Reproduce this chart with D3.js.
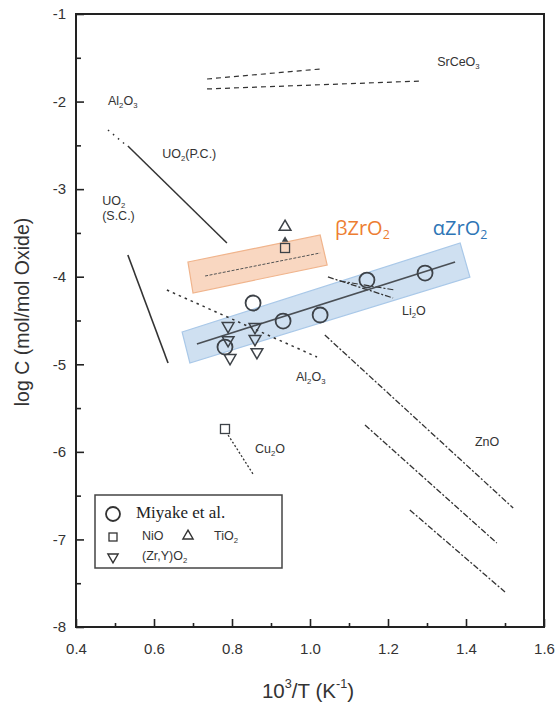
<!DOCTYPE html>
<html><head><meta charset="utf-8">
<script src="https://cdn.jsdelivr.net/npm/d3@7"></script>
<style>body{margin:0;background:#fff;} svg{display:block;}</style>
</head><body>
<svg id="c" width="555" height="704"></svg>
<script>
// ---- data ----
const xTickValues = [0.4, 0.6, 0.8, 1.0, 1.2, 1.4, 1.6];
const xTickLabels = ["0.4", "0.6", "0.8", "1.0", "1.2", "1.4", "1.6"];
const xMinorTicks = [0.5, 0.7, 0.9, 1.1, 1.3, 1.5];
const yTickValues = [-1, -2, -3, -4, -5, -6, -7, -8];
const yTickLabels = ["-1", "-2", "-3", "-4", "-5", "-6", "-7", "-8"];
const yMinorTicks = [-1.5, -2.5, -3.5, -4.5, -5.5, -6.5, -7.5];

// Miyake et al. (circles)
const miyakeX = [0.782, 0.854, 0.931, 1.026, 1.146, 1.295];
const miyakeY = [-4.803, -4.300, -4.506, -4.437, -4.038, -3.958];
// (Zr,Y)O2 (down triangles)
const zryX = [0.790, 0.790, 0.795, 0.859, 0.859, 0.864];
const zryY = [-4.563, -4.723, -4.928, -4.574, -4.711, -4.860];
// TiO2 (triangle) and NiO (square)
const tio2X = [0.936];
const tio2Y = [-3.432];
const tio2SmallX = [0.936];
const tio2SmallY = [-3.58];
const nioX = [0.936, 0.782];
const nioY = [-3.672, -5.739];

// literature lines [x0, x1], [y0, y1]
const srceoAX = [0.736, 1.026], srceoAY = [-1.742, -1.628];
const srceoBX = [0.736, 1.287], srceoBY = [-1.856, -1.765];
const al2o3TopX = [0.482, 0.528], al2o3TopY = [-2.325, -2.496];
const uo2pcX = [0.533, 0.787], uo2pcY = [-2.507, -3.615];
const uo2scX = [0.533, 0.636], uo2scY = [-3.752, -4.985];
const al2o3LowX = [0.633, 1.018], al2o3LowY = [-4.152, -4.917];
const li2oAX = [1.046, 1.213], li2oAY = [-4.003, -4.243];
const li2oBX = [1.077, 1.218], li2oBY = [-4.049, -4.152];
const znoAX = [1.038, 1.521], znoAY = [-4.666, -6.641];
const znoBX = [1.141, 1.479], znoBY = [-5.693, -7.041];
const znoCX = [1.256, 1.500], znoCY = [-6.664, -7.600];
const cu2oX = [0.790, 0.854], cu2oY = [-5.808, -6.253];
const betaLineX = [0.731, 1.026], betaLineY = [-3.992, -3.729];
const alphaLineX = [0.710, 1.372], alphaLineY = [-4.768, -3.832];

// shaded bands (corners)
const betaBandX = [0.687, 1.026, 1.044, 0.700];
const betaBandY = [-3.832, -3.524, -3.866, -4.186];
const alphaBandX = [0.672, 1.385, 1.410, 0.692];
const alphaBandY = [-4.631, -3.615, -4.003, -4.985];

// ---- chart ----
const svg = d3.select("#c");
const x = d3.scaleLinear().domain([0.4, 1.6]).range([76, 544]);
const y = d3.scaleLinear().domain([-8, -1]).range([627, 14]);
const ink = "#333";
const font = "Liberation Sans, Arial, sans-serif";

function chem(parent, px, py, parts, size, opts) {
  opts = opts || {};
  const t = parent.append("text").attr("x", px).attr("y", py)
    .attr("font-family", opts.family || font).attr("font-size", size)
    .attr("fill", opts.fill || ink).attr("dominant-baseline", "middle");
  let shifted = false;
  parts.forEach(p => {
    const isSub = p[1] === "sub", isSup = p[1] === "sup";
    const ts = t.append("tspan").text(p[0]);
    if (isSub) { ts.attr("dy", size * 0.3).attr("font-size", size * 0.62); shifted = "sub"; }
    else if (isSup) { ts.attr("dy", -size * 0.38).attr("font-size", size * 0.62); shifted = "sup"; }
    else if (shifted) { ts.attr("dy", shifted === "sub" ? -size * 0.3 : size * 0.38); shifted = false; }
  });
  return t;
}

// bands
function band(xs, ys, fill, stroke) {
  svg.append("polygon")
    .attr("points", xs.map((v, i) => x(v) + "," + y(ys[i])).join(" "))
    .attr("fill", fill).attr("stroke", stroke).attr("stroke-width", 1.2);
}
band(betaBandX, betaBandY, "#f9d7c1", "#f0b48c");
band(alphaBandX, alphaBandY, "#cfe0f1", "#a9c8e8");

// lines
function seg(xs, ys, dash, w, col) {
  svg.append("line")
    .attr("x1", x(xs[0])).attr("y1", y(ys[0]))
    .attr("x2", x(xs[1])).attr("y2", y(ys[1]))
    .attr("stroke", col || ink).attr("stroke-width", w || 1.3)
    .attr("stroke-dasharray", dash || null);
}
seg(srceoAX, srceoAY, "5,4", 1.2);
seg(srceoBX, srceoBY, "5,4", 1.2);
seg(al2o3TopX, al2o3TopY, "1.5,5", 1.5);
seg(uo2pcX, uo2pcY, null, 1.5);
seg(uo2scX, uo2scY, null, 1.6);
seg(al2o3LowX, al2o3LowY, "2.5,4", 1.5);
seg(li2oAX, li2oAY, "6,2,2,2", 1.3);
seg(li2oBX, li2oBY, "6,2,2,2", 1.1);
seg(znoAX, znoAY, "6,2,2,2", 1.3);
seg(znoBX, znoBY, "6,2,2,2", 1.3);
seg(znoCX, znoCY, "6,2,2,2", 1.3);
seg(cu2oX, cu2oY, "2,2", 1.3);
seg(betaLineX, betaLineY, "3,1.5", 1.0, "#555");
seg(alphaLineX, alphaLineY, null, 1.6, "#4a4f55");

// markers
const mk = "#3d4248";
svg.append("g").selectAll("circle").data(miyakeX).join("circle")
  .attr("cx", d => x(d)).attr("cy", (d, i) => y(miyakeY[i])).attr("r", 7.5)
  .attr("fill", "none").attr("stroke", mk).attr("stroke-width", 1.8);
const tri = d3.symbol().type(d3.symbolTriangle).size(60);
svg.append("g").selectAll("path").data(zryX).join("path")
  .attr("d", tri).attr("transform", (d, i) => `translate(${x(d)},${y(zryY[i])}) rotate(180)`)
  .attr("fill", "none").attr("stroke", mk).attr("stroke-width", 1.5);
svg.append("g").selectAll("path").data(tio2X).join("path")
  .attr("d", tri).attr("transform", (d, i) => `translate(${x(d)},${y(tio2Y[i])})`)
  .attr("fill", "none").attr("stroke", mk).attr("stroke-width", 1.5);
svg.append("g").selectAll("path").data(tio2SmallX).join("path")
  .attr("d", d3.symbol().type(d3.symbolTriangle).size(18)).attr("transform", (d, i) => `translate(${x(d)},${y(tio2SmallY[i])})`)
  .attr("fill", mk);
svg.append("g").selectAll("rect").data(nioX).join("rect")
  .attr("x", d => x(d) - 4.5).attr("y", (d, i) => y(nioY[i]) - 4.5)
  .attr("width", 9).attr("height", 9)
  .attr("fill", "none").attr("stroke", mk).attr("stroke-width", 1.3);

// labels
chem(svg, x(1.326), y(-1.56), [["SrCeO"], ["3", "sub"]], 12.5);
chem(svg, x(0.482), y(-2.005), [["Al"], ["2", "sub"], ["O"], ["3", "sub"]], 12.5);
chem(svg, x(0.621), y(-2.61), [["UO"], ["2", "sub"], ["(P.C.)"]], 12.5);
chem(svg, x(0.467), y(-3.147), [["UO"], ["2", "sub"]], 12.5);
chem(svg, x(0.467), y(-3.318), [["(S.C.)"]], 12.5);
chem(svg, x(0.964), y(-5.157), [["Al"], ["2", "sub"], ["O"], ["3", "sub"]], 12.5);
chem(svg, x(1.236), y(-4.403), [["Li"], ["2", "sub"], ["O"]], 12.5);
chem(svg, x(1.423), y(-5.899), [["ZnO"]], 12.5);
chem(svg, x(0.859), y(-5.979), [["Cu"], ["2", "sub"], ["O"]], 12.5);
chem(svg, x(1.064), y(-3.467), [["βZrO"], ["2", "sub"]], 20, {fill: "#ed7d31", family: "Open Sans, Noto Sans, sans-serif"});
chem(svg, x(1.315), y(-3.467), [["αZrO"], ["2", "sub"]], 20, {fill: "#2e75b6", family: "Open Sans, Noto Sans, sans-serif"});

// frame
svg.append("rect").attr("x", x(0.4)).attr("y", y(-1))
  .attr("width", x(1.6) - x(0.4)).attr("height", y(-8) - y(-1))
  .attr("fill", "none").attr("stroke", "#222").attr("stroke-width", 2);

// axes
const xAxis = d3.axisBottom(x).tickValues(xTickValues).tickSize(-8).tickPadding(16)
  .tickFormat((d, i) => xTickLabels[i]);
const gx = svg.append("g").attr("transform", `translate(0,${y(-8)})`).call(xAxis);
gx.select(".domain").remove();
gx.selectAll("line").attr("stroke", "#222").attr("stroke-width", 1.6);
gx.selectAll("text").attr("font-family", font).attr("font-size", 15).attr("fill", "#333");
const gxm = svg.append("g").attr("transform", `translate(0,${y(-8)})`)
  .call(d3.axisBottom(x).tickValues(xMinorTicks).tickSize(-4).tickFormat(""));
gxm.select(".domain").remove();
gxm.selectAll("line").attr("stroke", "#222").attr("stroke-width", 1.6);

const yAxis = d3.axisLeft(y).tickValues(yTickValues).tickSize(-8).tickPadding(10)
  .tickFormat((d, i) => yTickLabels[i]);
const gy = svg.append("g").attr("transform", `translate(${x(0.4)},0)`).call(yAxis);
gy.select(".domain").remove();
gy.selectAll("line").attr("stroke", "#222").attr("stroke-width", 1.6);
gy.selectAll("text").attr("font-family", font).attr("font-size", 15).attr("fill", "#333");
const gym = svg.append("g").attr("transform", `translate(${x(0.4)},0)`)
  .call(d3.axisLeft(y).tickValues(yMinorTicks).tickSize(-5).tickFormat(""));
gym.select(".domain").remove();
gym.selectAll("line").attr("stroke", "#222").attr("stroke-width", 1.6);

// axis titles
const xt = chem(svg, 0, 693, [["10"], ["3", "sup"], ["/T (K"], ["-1", "sup"], [")"]], 20.5);
xt.attr("text-anchor", "middle").attr("x", 308);
svg.append("text").attr("transform", "translate(24,312) rotate(-90)")
  .attr("text-anchor", "middle").attr("dominant-baseline", "middle")
  .attr("font-family", font).attr("font-size", 19.5).attr("fill", "#333")
  .text("log C (mol/mol Oxide)");

// legend
const lg = svg.append("g");
lg.append("rect").attr("x", 95).attr("y", 495).attr("width", 187).attr("height", 73)
  .attr("fill", "#fff").attr("stroke", "#444").attr("stroke-width", 1.5);
lg.append("circle").attr("cx", 113).attr("cy", 514).attr("r", 7).attr("fill", "none")
  .attr("stroke", "#333").attr("stroke-width", 1.8);
lg.append("text").attr("x", 136).attr("y", 514).attr("dominant-baseline", "middle")
  .attr("font-family", "Liberation Serif, Times New Roman, serif").attr("font-size", 17)
  .attr("fill", "#222").text("Miyake et al.");
lg.append("rect").attr("x", 109).attr("y", 533).attr("width", 8).attr("height", 8)
  .attr("fill", "none").attr("stroke", "#333").attr("stroke-width", 1.3);
chem(lg, 142, 537, [["NiO"]], 12.5);
lg.append("path").attr("d", d3.symbol().type(d3.symbolTriangle).size(45))
  .attr("transform", "translate(188,536)").attr("fill", "none").attr("stroke", "#333").attr("stroke-width", 1.4);
chem(lg, 214, 537, [["TiO"], ["2", "sub"]], 12.5);
lg.append("path").attr("d", d3.symbol().type(d3.symbolTriangle).size(45))
  .attr("transform", "translate(113,557) rotate(180)").attr("fill", "none").attr("stroke", "#333").attr("stroke-width", 1.4);
chem(lg, 142, 557, [["(Zr,Y)O"], ["2", "sub"]], 12.5);
</script>
</body></html>
